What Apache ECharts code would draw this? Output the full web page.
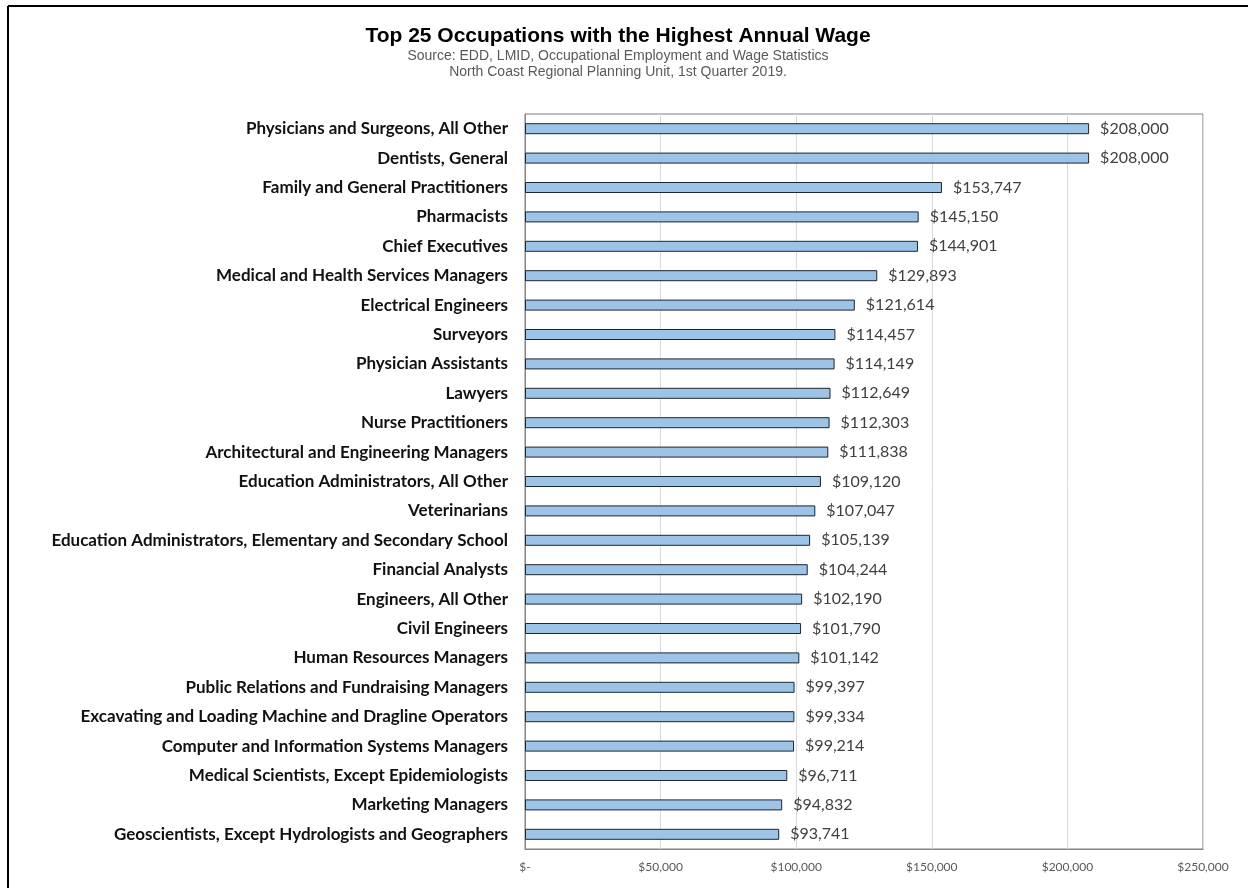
<!DOCTYPE html>
<html>
<head>
<meta charset="utf-8">
<script src="https://cdn.jsdelivr.net/npm/echarts@6/dist/echarts.min.js"></script>
<style>
html,body{margin:0;padding:0;background:#fff;}
#chart{width:1248px;height:888px;}
</style>
</head>
<body>
<div id="chart"></div>
<script>
const categories = [
  "Physicians and Surgeons, All Other",
  "Dentists, General",
  "Family and General Practitioners",
  "Pharmacists",
  "Chief Executives",
  "Medical and Health Services Managers",
  "Electrical Engineers",
  "Surveyors",
  "Physician Assistants",
  "Lawyers",
  "Nurse Practitioners",
  "Architectural and Engineering Managers",
  "Education Administrators, All Other",
  "Veterinarians",
  "Education Administrators, Elementary and Secondary School",
  "Financial Analysts",
  "Engineers, All Other",
  "Civil Engineers",
  "Human Resources Managers",
  "Public Relations and Fundraising Managers",
  "Excavating and Loading Machine and Dragline Operators",
  "Computer and Information Systems Managers",
  "Medical Scientists, Except Epidemiologists",
  "Marketing Managers",
  "Geoscientists, Except Hydrologists and Geographers"
];
const wages = [
  208000, 208000, 153747, 145150, 144901, 129893, 121614, 114457, 114149, 112649,
  112303, 111838, 109120, 107047, 105139, 104244, 102190, 101790, 101142, 99397,
  99334, 99214, 96711, 94832, 93741
];
const titleText = "Top 25 Occupations with the Highest Annual Wage";
const subtitleText = "Source: EDD, LMID, Occupational Employment and Wage Statistics\nNorth Coast Regional Planning Unit, 1st Quarter 2019.";

function money(v){
  if (v === 0) return "$-";
  return "$" + v.toLocaleString("en-US");
}

const chart = echarts.init(document.getElementById("chart"), null, {renderer: "canvas"});
chart.setOption({
  animation: false,
  backgroundColor: "#ffffff",
  title: {
    text: titleText,
    subtext: subtitleText,
    left: 613,
    top: 21,
    textAlign: "center",
    itemGap: 1,
    textStyle: {fontFamily: "Liberation Sans, Arial", fontWeight: "bold", fontSize: 21, color: "#000000"},
    subtextStyle: {fontFamily: "Liberation Sans, Arial", fontSize: 14, color: "#595959", lineHeight: 16, align: "center"}
  },
  graphic: [
    {type: "line", shape: {x1: 8, y1: 6, x2: 1248, y2: 6}, style: {stroke: "#000", lineWidth: 2}},
    {type: "line", shape: {x1: 8, y1: 6, x2: 8, y2: 888}, style: {stroke: "#000", lineWidth: 2}}
  ],
  grid: {left: 525, top: 114, width: 678, height: 735, show: true, borderColor: "#7f7f7f", borderWidth: 1},
  xAxis: {
    type: "value",
    min: 0, max: 250000, interval: 50000,
    axisLine: {show: true, lineStyle: {color: "#868686"}},
    axisTick: {show: false},
    splitLine: {show: true, lineStyle: {color: "#d9d9d9"}},
    axisLabel: {formatter: money, fontFamily: "Lato, Carlito, Calibri", fontSize: 12, color: "#595959", margin: 12}
  },
  yAxis: {
    type: "category",
    data: categories,
    inverse: true,
    axisLine: {show: true, lineStyle: {color: "#868686"}},
    axisTick: {show: false},
    axisLabel: {fontFamily: "Lato, Carlito, Calibri", fontWeight: "bold", fontSize: 17, color: "#111111", margin: 17}
  },
  series: [{
    type: "bar",
    data: wages,
    barWidth: 11,
    itemStyle: {color: "#9dc3e6", borderColor: "#1a2633", borderWidth: 1},
    label: {show: true, position: "right", distance: 11, formatter: p => money(p.value),
      fontFamily: "Lato, Carlito, Calibri", fontSize: 16, color: "#404040"}
  }]
});
</script>
</body>
</html>
